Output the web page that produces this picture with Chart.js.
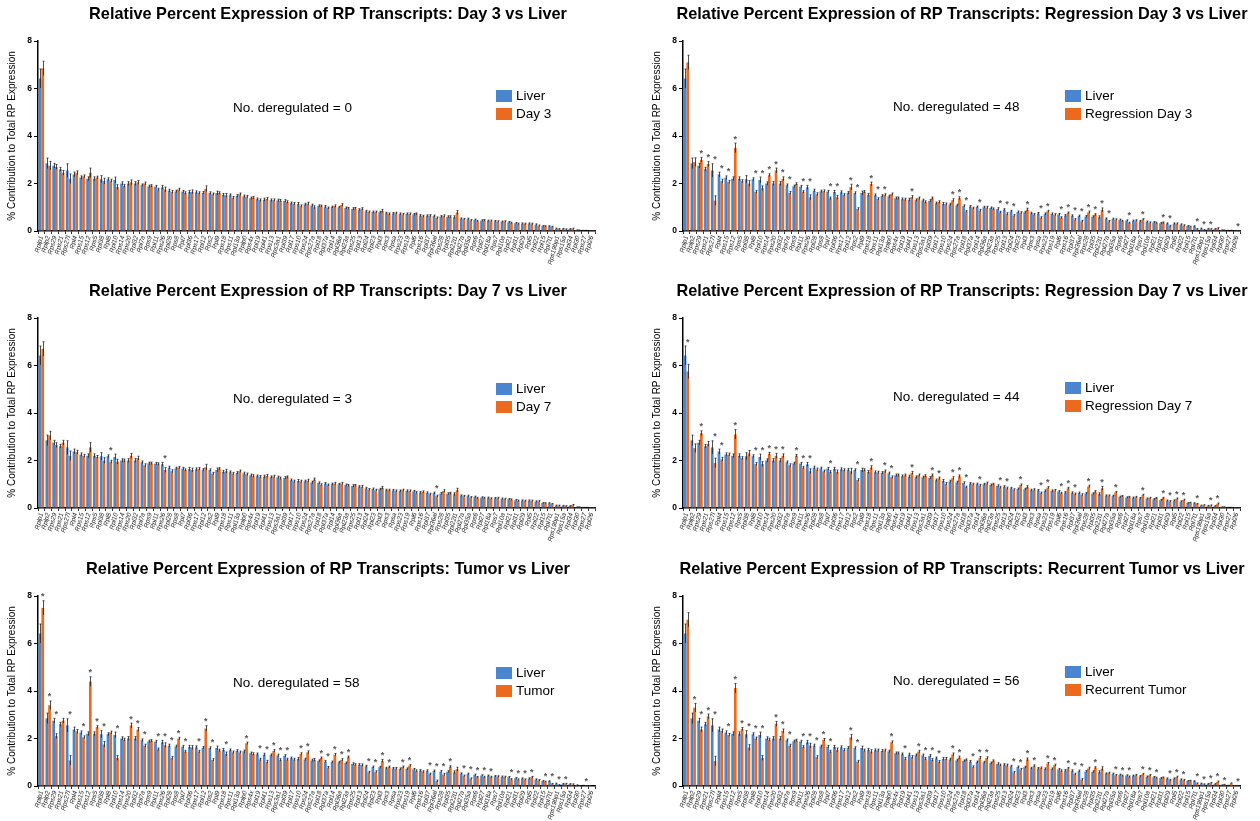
<!DOCTYPE html>
<html>
<head>
<meta charset="utf-8">
<script src="https://cdn.jsdelivr.net/npm/chart.js@4.4.0/dist/chart.umd.min.js"></script>
<style>
    html, body { margin: 0; padding: 0; background: #fff; overflow: hidden; width: 1260px; height: 821px; }
    .panel { position: absolute; height: 270px; }
</style>
</head>
<body>
<div class="panel" style="left:0;top:0;width:630px"><canvas id="c1"></canvas></div>
<div class="panel" style="left:645px;top:0;width:615px"><canvas id="c2"></canvas></div>
<div class="panel" style="left:0;top:277px;width:630px"><canvas id="c3"></canvas></div>
<div class="panel" style="left:645px;top:277px;width:615px"><canvas id="c4"></canvas></div>
<div class="panel" style="left:0;top:555px;width:630px"><canvas id="c5"></canvas></div>
<div class="panel" style="left:645px;top:555px;width:615px"><canvas id="c6"></canvas></div>

<script>
// ===================== DATA ===================== //
const genes = ["Rplp1","Rplp2","Rps29","Rps21","Rps27l","Rpl4","Rps15","Rps12","Rps5","Rpl38",
    "Rpl8","Rpl10","Rps14","Rps20","Rpl32","Rpl7a","Rps9","Rpl11","Rps26","Rpl28",
    "Rps8","Rpl7","Rpl36","Rps17","Rpl12","Rps2","Rpl9","Rps18","Rps11","Rpl13a",
    "Rplp0","Rps4x","Rpl19","Rpl41","Rps13","Rps3a1","Rpl39","Rpl17","Rps10","Rps24",
    "Rps27a","Rpl18","Rpl37a","Rpl14","Rpl36a","Rpl23a","Rps25","Rpl13","Rpl24","Rpl23",
    "Rpl3","Rps3","Rpsa","Rps23","Rps19","Rpl6","Rps16","Rpl37","Rpl36al","Rps28",
    "Rpl35","Rpl22l1","Rpl27a","Rpl35a","Rps6","Rpl27","Rpl18a","Rps7","Rpl10a","Rpl21",
    "Rpl31","Rpl29","Rpl5","Rpl22","Rpl15","Rpl7l1","Rps19bp1","Rps15a","Rpl34","Rpl30",
    "Rps27","Rpl26"];

const yTicks = [0, 2, 4, 6, 8];

// liver reference (same group in every panel)
const liver = [6.42,2.85,2.75,2.6,2.55,2.38,2.25,2.2,2.2,2.18,
    2.18,2.15,2.0,2.0,2.0,1.93,1.88,1.87,1.84,1.7,
    1.67,1.66,1.64,1.63,1.61,1.6,1.6,1.52,1.51,1.48,
    1.46,1.38,1.34,1.32,1.3,1.29,1.27,1.17,1.14,1.12,
    1.08,1.06,1.03,1.01,1.0,0.97,0.93,0.9,0.83,0.8,
    0.79,0.75,0.74,0.72,0.72,0.7,0.65,0.64,0.63,0.61,
    0.6,0.58,0.52,0.51,0.47,0.44,0.43,0.41,0.39,0.37,
    0.33,0.31,0.31,0.27,0.21,0.2,0.1,0.09,0.08,0.04,
    0.02,0.01];

const liverErr = [0.4,0.22,0.1,0.08,0.28,0.1,0.07,0.08,0.08,0.15,
    0.06,0.12,0.07,0.08,0.08,0.05,0.05,0.05,0.08,0.06,
    0.05,0.05,0.07,0.06,0.05,0.05,0.08,0.06,0.05,0.05,
    0.05,0.05,0.05,0.06,0.05,0.05,0.05,0.05,0.06,0.05,
    0.05,0.04,0.04,0.04,0.04,0.04,0.05,0.04,0.04,0.04,
    0.04,0.04,0.04,0.04,0.04,0.04,0.04,0.04,0.04,0.04,
    0.04,0.06,0.03,0.03,0.03,0.03,0.03,0.03,0.03,0.03,
    0.03,0.03,0.03,0.03,0.02,0.02,0.02,0.02,0.02,0.01,
    0.01,0.01];

const treatErr = [0.3,0.18,0.1,0.1,0.2,0.08,0.06,0.2,0.06,0.12,
    0.06,0.1,0.06,0.1,0.08,0.06,0.05,0.05,0.1,0.06,
    0.05,0.05,0.08,0.05,0.12,0.05,0.05,0.08,0.05,0.05,
    0.05,0.05,0.05,0.06,0.05,0.05,0.05,0.05,0.05,0.06,
    0.06,0.04,0.04,0.05,0.05,0.04,0.04,0.05,0.04,0.04,
    0.06,0.04,0.04,0.04,0.04,0.04,0.04,0.04,0.04,0.05,
    0.04,0.08,0.03,0.03,0.03,0.03,0.03,0.03,0.03,0.03,
    0.03,0.03,0.03,0.03,0.02,0.02,0.02,0.02,0.03,0.01,
    0.01,0.01];

const day3 = [6.85,2.75,2.7,2.45,2.2,2.45,2.3,2.45,2.25,2.1,
    2.12,1.85,1.9,2.05,2.05,2.0,1.9,1.75,1.75,1.65,
    1.75,1.6,1.65,1.6,1.78,1.55,1.6,1.5,1.4,1.55,
    1.45,1.4,1.3,1.35,1.3,1.28,1.22,1.15,1.05,1.15,
    1.0,1.05,0.97,1.05,1.1,0.95,0.95,0.93,0.8,0.8,
    0.85,0.72,0.75,0.7,0.72,0.72,0.62,0.65,0.55,0.63,
    0.6,0.78,0.5,0.45,0.42,0.45,0.43,0.4,0.4,0.34,
    0.3,0.3,0.3,0.22,0.2,0.18,0.08,0.07,0.09,0.03,
    0.02,0.01];

const day7 = [6.7,3.05,2.65,2.75,2.2,2.35,2.2,2.55,2.15,2.0,
    1.95,1.95,2.0,2.2,2.1,1.8,1.88,1.85,1.6,1.55,
    1.7,1.6,1.6,1.65,1.72,1.45,1.65,1.55,1.45,1.55,
    1.42,1.35,1.32,1.35,1.33,1.25,1.3,1.12,1.12,1.15,
    1.2,0.98,0.97,1.03,1.03,0.95,0.95,0.9,0.78,0.75,
    0.85,0.75,0.72,0.75,0.72,0.65,0.68,0.58,0.5,0.72,
    0.62,0.75,0.5,0.45,0.42,0.42,0.4,0.42,0.38,0.35,
    0.3,0.3,0.3,0.28,0.2,0.17,0.1,0.08,0.12,0.04,
    0.02,0.01];

const regDay3 = [7.1,2.9,3.0,2.82,1.28,2.1,2.07,3.5,2.1,2.0,
    1.65,1.8,2.35,2.55,2.2,1.6,1.98,1.65,1.42,1.55,
    1.68,1.38,1.42,1.52,1.85,0.93,1.65,1.98,1.35,1.52,
    1.55,1.38,1.33,1.43,1.38,1.22,1.38,1.22,1.13,1.3,
    1.38,0.82,0.96,0.86,0.99,0.93,0.79,0.72,0.65,0.77,
    0.9,0.7,0.56,0.83,0.69,0.56,0.76,0.48,0.41,0.79,
    0.69,0.89,0.41,0.48,0.42,0.34,0.44,0.49,0.35,0.34,
    0.35,0.21,0.31,0.23,0.18,0.08,0.04,0.08,0.11,0.03,
    0.02,0.005];

const regDay7 = [5.75,2.52,3.15,2.7,1.9,2.05,2.25,3.1,2.1,2.3,
    1.85,1.85,2.28,2.2,2.2,1.8,2.2,1.7,1.55,1.62,
    1.55,1.52,1.52,1.6,1.55,1.18,1.6,1.7,1.5,1.55,
    1.3,1.38,1.38,1.48,1.38,1.35,1.38,1.25,1.02,1.26,
    1.33,0.88,1.0,0.95,1.04,1.0,0.87,0.83,0.77,0.97,
    0.88,0.77,0.63,0.86,0.74,0.62,0.83,0.59,0.56,0.91,
    0.69,0.83,0.52,0.66,0.49,0.46,0.46,0.55,0.42,0.41,
    0.42,0.28,0.39,0.34,0.22,0.17,0.12,0.11,0.18,0.04,
    0.02,0.01];

const tumor = [7.5,3.4,2.1,2.75,1.08,2.3,2.05,4.4,2.48,1.75,
    2.25,1.18,1.95,2.55,2.38,1.7,1.9,1.55,1.72,1.18,
    2.0,1.45,1.62,1.45,2.42,1.1,1.5,1.35,1.42,1.42,
    1.8,1.35,1.12,1.02,1.48,1.1,1.12,1.12,1.35,1.42,
    1.1,1.18,0.78,1.32,1.1,1.22,0.9,0.88,0.58,0.6,
    1.06,0.8,0.74,0.8,0.86,0.64,0.6,0.5,0.21,0.48,
    0.81,0.71,0.43,0.31,0.37,0.38,0.38,0.4,0.38,0.28,
    0.27,0.27,0.37,0.24,0.18,0.09,0.04,0.09,0.06,0.01,
    0.005,0.0];

const recTumor = [7.0,3.3,2.38,2.93,1.05,2.32,2.15,4.12,2.4,1.62,
    2.0,1.18,1.95,2.62,2.32,1.7,1.92,1.65,1.7,1.22,
    1.95,1.45,1.52,1.52,2.05,1.03,1.5,1.45,1.5,1.5,
    1.85,1.38,1.15,1.22,1.45,1.15,1.1,1.02,1.15,1.33,
    1.2,1.1,0.81,1.19,1.18,1.06,0.88,0.87,0.57,0.7,
    1.12,0.85,0.76,0.95,0.88,0.64,0.74,0.5,0.27,0.74,
    0.77,0.73,0.55,0.45,0.43,0.39,0.46,0.5,0.45,0.34,
    0.35,0.25,0.38,0.25,0.22,0.11,0.07,0.13,0.18,0.06,
    0.12,0.01];

// genes marked significant (*) in each comparison
const starsDay7 = ["Rpl8","Rps26","Rpl36al"];
const starsRegDay3 = ["Rps29","Rps21","Rps27l","Rpl4","Rps15","Rps12","Rpl8","Rpl10","Rps14","Rps20",
    "Rpl32","Rpl7a","Rpl11","Rps26","Rpl7","Rpl36","Rpl12","Rps2","Rps18","Rps11",
    "Rpl13a","Rpl41","Rps24","Rps27a","Rpl18","Rpl14","Rps25","Rpl13","Rpl24","Rpl3",
    "Rpsa","Rps23","Rpl6","Rps16","Rpl37","Rpl36al","Rps28","Rpl35","Rpl22l1","Rpl27a",
    "Rpl27","Rps7","Rpl31","Rpl29","Rpl7l1","Rps19bp1","Rps15a","Rpl26"];
const starsRegDay7 = ["Rplp1","Rps29","Rps27l","Rpl4","Rps12","Rpl8","Rpl10","Rps14","Rps20","Rpl32",
    "Rps9","Rpl11","Rps26","Rpl7","Rps2","Rps18","Rpl13a","Rplp0","Rpl41","Rpl39",
    "Rpl17","Rps24","Rps27a","Rpl18","Rpl14","Rps25","Rpl13","Rpl23","Rpsa","Rps23",
    "Rpl6","Rps16","Rpl37","Rps28","Rpl22l1","Rpl35a","Rps7","Rpl31","Rpl29","Rpl5",
    "Rpl22","Rpl7l1","Rps15a","Rpl34"];
const starsTumor = ["Rplp1","Rplp2","Rps29","Rps27l","Rps15","Rps12","Rps5","Rpl38","Rpl10","Rps20",
    "Rpl32","Rpl7a","Rpl11","Rps26","Rpl28","Rps8","Rpl7","Rps17","Rpl12","Rps2",
    "Rps18","Rplp0","Rpl19","Rpl41","Rps13","Rps3a1","Rpl39","Rps10","Rps24","Rpl18",
    "Rpl37a","Rpl14","Rpl36a","Rpl23a","Rpl24","Rpl23","Rpl3","Rps3","Rps23","Rps19",
    "Rpl37","Rpl36al","Rps28","Rpl35","Rpl27a","Rpl35a","Rps6","Rpl27","Rpl18a","Rpl21",
    "Rpl31","Rpl29","Rpl5","Rpl15","Rpl7l1","Rps19bp1","Rps15a","Rps27"];
const starsRecTumor = ["Rplp2","Rps29","Rps21","Rps27l","Rps15","Rps12","Rps5","Rpl38","Rpl8","Rpl10",
    "Rps20","Rpl32","Rpl7a","Rpl11","Rps26","Rpl28","Rps8","Rpl7","Rpl12","Rps2",
    "Rplp0","Rpl19","Rps13","Rps3a1","Rpl39","Rpl17","Rps24","Rps27a","Rpl37a","Rpl14",
    "Rpl36a","Rpl24","Rpl23","Rpl3","Rps3","Rps23","Rps19","Rps16","Rpl37","Rpl36al",
    "Rpl35","Rpl35a","Rps6","Rpl27","Rps7","Rpl10a","Rpl21","Rpl29","Rpl5","Rpl22",
    "Rpl7l1","Rps19bp1","Rps15a","Rpl34","Rpl30","Rpl26"];

const deregulated = [0, 48, 3, 44, 58, 56];

// ===================== COLORS / FONTS ===================== //
const BLUE = "#4a86d0";
const ORANGE = "#eb6a1f";
const FONT = "'Liberation Sans', Arial, Helvetica, sans-serif";
Chart.defaults.font.family = FONT;
Chart.defaults.color = "#000";

// ===================== EXTRAS PLUGIN ===================== //
// error bars, asterisks, title, text note and legend box
const extrasPlugin = {
    id: "extras",
    afterDatasetsDraw(chart, args, opts) {
        const ctx = chart.ctx;
        const yScale = chart.scales.y;
        ctx.save();

        // error bars
        ctx.strokeStyle = "rgba(35,35,35,0.8)";
        ctx.lineWidth = 1;
        chart.data.datasets.forEach((ds, di) => {
            chart.getDatasetMeta(di).data.forEach((bar, i) => {
                const v = ds.data[i];
                const e = ds.err[i];
                if (v <= 0) return;
                const top = yScale.getPixelForValue(v + e);
                const bot = yScale.getPixelForValue(Math.max(v - e, 0));
                const x = Math.round(bar.x) + 0.5;
                ctx.beginPath();
                ctx.moveTo(x, top);
                ctx.lineTo(x, bot);
                ctx.moveTo(x - 1, top);
                ctx.lineTo(x + 1, top);
                ctx.stroke();
            });
        });

        // asterisks
        ctx.fillStyle = "#555";
        ctx.font = "bold 9px " + FONT;
        ctx.textAlign = "center";
        ctx.textBaseline = "middle";
        const d0 = chart.data.datasets[0];
        const d1 = chart.data.datasets[1];
        chart.data.labels.forEach((lab, i) => {
            if (!opts.stars.includes(lab)) return;
            const bar = chart.getDatasetMeta(1).data[i];
            const top = Math.max(d0.data[i] + d0.err[i], d1.data[i] + d1.err[i]);
            ctx.fillText("*", bar.x, yScale.getPixelForValue(top) - 4);
        });
        ctx.restore();
    },
    afterDraw(chart, args, opts) {
        const ctx = chart.ctx;
        ctx.save();

        // title
        ctx.fillStyle = "#000";
        ctx.textAlign = "center";
        ctx.textBaseline = "middle";
        ctx.font = "bold 16.3px " + FONT;
        ctx.fillText(opts.title, opts.titleX, 15);

        // note
        ctx.textAlign = "left";
        ctx.font = "13.5px " + FONT;
        ctx.fillText(opts.note, opts.noteX, opts.noteY);

        // legend
        chart.data.datasets.forEach((ds, di) => {
            const cy = opts.legY + di * 18;
            ctx.fillStyle = ds.backgroundColor;
            ctx.fillRect(opts.legX, cy - 6, 16, 12);
            ctx.fillStyle = "#000";
            ctx.fillText(ds.label, opts.legX + 20, cy);
        });
        ctx.restore();
    }
};

// ===================== BUILD ONE PANEL ===================== //
function makePanel(canvasId, treatLabel, treatValues, stars, count, pos) {
    const ctx = document.getElementById(canvasId).getContext("2d");
    return new Chart(ctx, {
        type: "bar",
        data: {
            labels: genes,
            datasets: [
                { label: "Liver", data: liver, err: liverErr, backgroundColor: BLUE },
                { label: treatLabel, data: treatValues, err: treatErr, backgroundColor: ORANGE }
            ]
        },
        options: {
            responsive: true,
            maintainAspectRatio: false,
            animation: false,
            devicePixelRatio: 1,
            categoryPercentage: 0.8,
            barPercentage: 1.0,
            layout: { padding: { left: 0, right: pos.padRight, top: 41, bottom: 0 } },
            plugins: {
                legend: { display: false },
                tooltip: { enabled: false },
                title: { display: false },
                extras: {
                    stars: stars,
                    title: "Relative Percent Expression of RP Transcripts: " + treatLabel + " vs Liver",
                    titleX: pos.titleX,
                    note: "No. deregulated = " + count,
                    noteX: pos.noteX, noteY: pos.noteY,
                    legX: pos.legX, legY: pos.legY
                }
            },
            scales: {
                x: {
                    grid: { display: true, drawOnChartArea: false, drawTicks: true, tickLength: 3, color: "#000", lineWidth: 0.8 },
                    border: { display: true, color: "#000", width: 1.5 },
                    ticks: {
                        autoSkip: false,
                        minRotation: 75,
                        maxRotation: 75,
                        padding: 1,
                        color: "#222",
                        font: { size: 6.5, style: "italic" }
                    },
                    afterFit: (scale) => { scale.height = 39; }
                },
                y: {
                    min: 0,
                    max: 8,
                    afterBuildTicks: (scale) => { scale.ticks = yTicks.map(v => ({ value: v })); },
                    grid: { display: true, drawOnChartArea: false, drawTicks: true, tickLength: 4, color: "#000", lineWidth: 1 },
                    border: { display: true, color: "#000", width: 1.5 },
                    ticks: { padding: 2, font: { size: 8.5, weight: "bold" }, color: "#000" },
                    title: {
                        display: true,
                        text: "% Contribution to Total RP Expression",
                        font: { size: 10 },
                        color: "#000",
                        padding: { top: 6, bottom: 0 }
                    },
                    afterFit: (scale) => { scale.width = 38; }
                }
            }
        },
        plugins: [extrasPlugin]
    });
}

// ===================== DRAW ALL SIX ===================== //
makePanel("c1", "Day 3", day3, [], deregulated[0],
    { padRight: 35, titleX: 328, noteX: 233, noteY: 108, legX: 496, legY: 96 });
makePanel("c2", "Regression Day 3", regDay3, starsRegDay3, deregulated[1],
    { padRight: 20, titleX: 317, noteX: 248, noteY: 107, legX: 420, legY: 96 });
makePanel("c3", "Day 7", day7, starsDay7, deregulated[2],
    { padRight: 35, titleX: 328, noteX: 233, noteY: 122, legX: 496, legY: 112 });
makePanel("c4", "Regression Day 7", regDay7, starsRegDay7, deregulated[3],
    { padRight: 20, titleX: 317, noteX: 248, noteY: 120, legX: 420, legY: 111 });
makePanel("c5", "Tumor", tumor, starsTumor, deregulated[4],
    { padRight: 35, titleX: 328, noteX: 233, noteY: 128, legX: 496, legY: 118 });
makePanel("c6", "Recurrent Tumor", recTumor, starsRecTumor, deregulated[5],
    { padRight: 20, titleX: 317, noteX: 248, noteY: 126, legX: 420, legY: 117 });
</script>
</body>
</html>
